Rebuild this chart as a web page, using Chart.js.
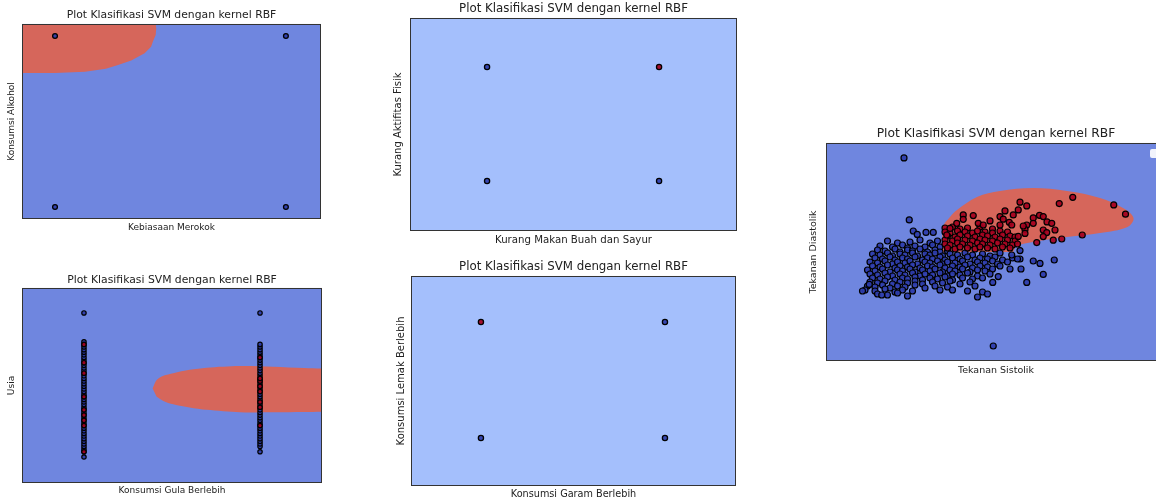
<!DOCTYPE html>
<html>
<head>
<meta charset="utf-8">
<script src="https://cdn.jsdelivr.net/npm/chart.js@4.4.1/dist/chart.umd.min.js"></script>
<style>
    body { margin: 0; background: #fff; width: 1156px; height: 503px; overflow: hidden; position: relative; }
    canvas { position: absolute; }
    #legenda { position: absolute; left: 1150px; top: 149px; width: 14px; height: 9px; background: #fff; border-radius: 2px; opacity: .9; }
</style>
</head>
<body>
<canvas id="grafik1" width="321" height="235" style="left:0;top:0"></canvas>
<canvas id="grafik2" width="322" height="239" style="left:0;top:260px"></canvas>
<canvas id="grafik3" width="347" height="248" style="left:390px;top:0"></canvas>
<canvas id="grafik4" width="343" height="248" style="left:393px;top:255px"></canvas>
<canvas id="grafik5" width="361" height="264" style="left:805px;top:115px"></canvas>
<div id="legenda"></div>
<script>
// grafik 1: kebiasaan merokok vs konsumsi alkohol
const merokok = [0, 0, 1, 1];
const alkohol = [0, 1, 0, 1];
const kelasMerokok = [0, 0, 0, 0];
const batasMerokok = [[-0.2, 0.784], [0.0, 0.784], [0.13, 0.791], [0.22, 0.808], [0.273, 0.83], [0.33, 0.856],
    [0.388, 0.899], [0.416, 0.937], [0.424, 0.967], [0.436, 1.006], [0.4385, 1.045], [0.435, 1.08], [0.43, 1.2], [-0.2, 1.2]];

// grafik 2: konsumsi gula berlebih (0/1) vs usia
const usiaGula0 = [25, 27, 28, 29, 30, 31, 32, 33, 34, 35, 36, 37, 38, 39, 40, 41, 42, 43, 44, 45, 46, 47, 48, 49, 50,
    51, 52, 53, 54, 55, 56, 57, 58, 59, 60, 61, 62, 63, 64, 65, 66, 67, 68, 69, 80];
const usiaGula0Merah = [27, 37, 39, 41, 43, 48, 57, 61, 68];
const usiaGula1 = [27, 29, 30, 31, 32, 33, 34, 35, 36, 37, 38, 39, 40, 41, 42, 43, 44, 45, 46, 47, 48, 49, 50,
    51, 52, 53, 54, 55, 56, 57, 58, 59, 60, 61, 62, 63, 64, 65, 66, 67, 68, 80];
const usiaGula1Merah = [37, 44, 46, 50, 52, 54, 55, 63];
const batasGula = [[0.39, 51.2], [0.413, 54.4], [0.451, 56.0], [0.507, 57.0], [0.6, 58.3], [0.697, 59.1], [0.886, 59.75],
    [1.074, 59.5], [1.25, 59.0], [1.35, 58.8], [1.6, 58.5], [1.6, 42.4], [1.35, 42.3], [1.25, 42.2], [1.074, 42.1],
    [0.886, 42.1], [0.697, 43.0], [0.6, 43.9], [0.507, 45.1], [0.451, 46.4], [0.413, 48.0]];

// grafik 3: kurang makan buah dan sayur vs kurang aktifitas fisik
const buahSayur = [0, 0, 1, 1];
const aktifitas = [0, 1, 0, 1];
const kelasAktifitas = [0, 0, 0, 1];

// grafik 4: konsumsi garam vs konsumsi lemak
const garam = [0, 0, 1, 1];
const lemak = [0, 1, 0, 1];
const kelasLemak = [0, 1, 0, 0];

// grafik 5: tekanan sistolik vs diastolik [sistolik, diastolik]
const tekananNormal = [
    [95, 89.5], [99, 88.5], [104, 89], [108, 90], [112, 88.5], [115, 89.5],
    [92, 87], [97, 86.5], [101, 87.5], [103, 86], [106, 87], [110, 86.5], [113, 87.5], [116, 86.5],
    [91, 85], [94, 84.5], [98, 85.5], [100, 84], [103, 85], [105, 84.5], [108, 85.5], [111, 84], [114, 85], [116, 84], [119, 84.5],
    [89, 83], [92, 82.5], [95, 83.5], [97, 82], [100, 83], [102, 82.5], [105, 83.5], [107, 82], [110, 83], [112, 82.5],
    [114, 83.5], [117, 82], [120, 83], [123, 82.5], [126, 83.5], [129, 82.5], [133, 83], [136, 82], [140, 83.5],
    [90, 81], [93, 80.5], [96, 81.5], [98, 80], [101, 81], [103, 80.5], [106, 81.5], [109, 80], [111, 81], [113, 80.5],
    [116, 81.5], [118, 80], [121, 81], [124, 80.5], [127, 81.5], [130, 80], [132, 81], [135, 80.5], [138, 81.5], [141, 80],
    [145, 81], [148, 80.5],
    [88, 79], [91, 78.5], [94, 79.5], [97, 78], [99, 79], [102, 78.5], [104, 79.5], [107, 78], [110, 79], [112, 78.5],
    [115, 79.5], [117, 78], [119, 79], [122, 78.5], [125, 79.5], [128, 78], [131, 79], [134, 78.5], [137, 79.5], [139, 78], [143, 79],
    [89, 77], [92, 76.5], [95, 77.5], [98, 76], [100, 77], [103, 76.5], [105, 77.5], [108, 76], [111, 77], [113, 76.5],
    [116, 77.5], [118, 76], [121, 77], [124, 76.5], [126, 77.5], [129, 76], [132, 77], [135, 76.5], [140, 77],
    [87, 75], [90, 74.5], [93, 75.5], [96, 74], [99, 75], [101, 74.5], [104, 75.5], [106, 74], [109, 75], [112, 74.5],
    [114, 75.5], [117, 74], [120, 75], [122, 74.5], [125, 75.5], [128, 74], [131, 75], [134, 74.5], [137, 75.5],
    [88, 73], [91, 72.5], [94, 73.5], [97, 72], [100, 73], [102, 72.5], [105, 73.5], [108, 72], [110, 73], [113, 72.5],
    [116, 73.5], [119, 72], [121, 73], [124, 72.5], [127, 73.5], [131, 72], [136, 73],
    [89, 71], [92, 70.5], [95, 71.5], [98, 70], [101, 71], [103, 70.5], [106, 71.5], [109, 70], [112, 71], [115, 70.5],
    [118, 71.5], [121, 70], [125, 71], [129, 70.5], [133, 71],
    [88, 69], [91, 68.5], [94, 69.5], [97, 68], [100, 69], [103, 68.5], [106, 69.5], [109, 68], [113, 69], [117, 68.5],
    [120, 69.5], [124, 68], [128, 69],
    [87, 67], [90, 66.5], [93, 67.5], [96, 66], [99, 67], [102, 66.5], [106, 67.5], [110, 66], [114, 67], [119, 66.5], [130, 67],
    [86, 65], [90, 64.5], [94, 65.5], [98, 64], [101, 65], [105, 64.5], [116, 65], [121, 65], [127, 64.5], [133, 64],
    [91, 63], [95, 62.5], [99, 63.5], [103, 62], [131, 61.5], [135, 63],
    [85, 64.5], [87.7, 67.8], [92.7, 62.5], [103.7, 100], [105.3, 94.5], [106.9, 92.8], [110.4, 93.8], [113.3, 93.8],
    [137.1, 68.8], [139.3, 71.7], [144, 75.5], [148.4, 75.5], [150.7, 68.8], [153.3, 79.5], [156, 78.3], [157.3, 72.8],
    [161.7, 80], [144.7, 82.5], [147, 80.5], [148, 84.7], [101.6, 131], [137.3, 37]
];
const tekananTinggi = [
    [118, 96], [121, 96.5], [124, 95.5], [127, 96], [132, 96.5], [137, 95.5],
    [118, 94], [120, 93.5], [123, 94.5], [126, 94], [129, 93.5], [131, 94.5], [134, 94], [137, 93.5], [140, 94.5], [143, 94],
    [119, 92], [122, 91.5], [124, 92.5], [127, 92], [130, 91.5], [133, 92.5], [135, 92], [138, 91.5], [141, 92.5], [144, 92], [146, 91.5],
    [118, 90], [121, 89.5], [123, 90.5], [126, 90], [129, 89.5], [132, 90.5], [134, 90], [137, 89.5], [140, 90.5], [143, 90], [146, 89.5],
    [118, 88], [120, 87.5], [123, 88.5], [125, 88], [128, 87.5], [131, 88.5], [133, 88], [136, 87.5], [139, 88.5], [142, 88], [145, 87.5],
    [119, 86], [122, 85.5], [124, 86.5], [127, 86], [130, 85.5], [132, 86.5], [135, 86], [138, 85.5], [141, 86.5], [144, 86],
    [169.1, 111.3], [185.5, 107.5], [190.2, 102.9], [163.7, 108.2], [148, 108.9], [150.7, 107], [147.3, 105], [142, 104.5],
    [129.3, 102.2], [125.3, 102.5], [125.3, 100.3], [140, 101.7], [141.3, 100.4], [145.3, 102.5], [143.7, 98.8], [144.7, 97.5],
    [153.3, 101], [155.8, 102.3], [157.3, 101.7], [158.8, 99], [160.7, 98.3], [153.3, 98.3], [150.7, 97.5], [150, 95.3],
    [150, 93.3], [149.3, 97], [157.3, 95], [158.7, 93.7], [162, 95], [157.3, 91.7], [161.3, 89.9], [164.7, 90.5],
    [172.9, 92.5], [154.7, 88.7], [147.3, 91.8], [147, 88], [140, 97.5], [131.3, 98.3], [133.3, 97.5], [122.7, 98.3],
    [120, 95.8], [118.7, 92.5], [136, 99.5]
];
const batasTekanan = [[117.2, 84], [117.2, 96.5], [120, 101.5], [122.8, 105], [130.8, 111.5], [140, 114.5], [153.2, 116],
    [166.8, 114.5], [180, 111], [189.2, 106], [193.4, 101], [191, 96.5], [180, 93.5], [166.8, 91.5], [153.2, 89],
    [146.8, 87], [145.2, 84]];

const judul = "Plot Klasifikasi SVM dengan kernel RBF";
const BIRU_LATAR = "#6f86df";
const BIRU_MUDA = "#a4bffc";
const MERAH_LATAR = "#d6665b";
const BIRU_TITIK = "rgba(44,60,170,0.92)";
const MERAH_TITIK = "rgba(165,0,30,0.92)";

const latarDanBingkai = {
    id: "latarDanBingkai",
    beforeDraw(chart, args, opts) {
        const { left, top, right, bottom } = chart.chartArea;
        const ctx = chart.ctx;
        ctx.save();
        ctx.fillStyle = opts.warna;
        ctx.fillRect(left, top, right - left, bottom - top);
        ctx.restore();
    },
    afterDraw(chart) {
        const { left, top, right, bottom } = chart.chartArea;
        const ctx = chart.ctx;
        ctx.save();
        ctx.strokeStyle = "#333";
        ctx.lineWidth = 1;
        ctx.strokeRect(Math.round(left) + 0.5, Math.round(top) + 0.5, Math.round(right - left) - 1, Math.round(bottom - top) - 1);
        ctx.restore();
    }
};

function skala(min, max, teks, ukuran, padding) {
    return {
        type: "linear", min: min, max: max,
        ticks: { display: false },
        grid: { display: false, drawTicks: false },
        border: { display: false },
        title: { display: true, text: teks, color: "#222", font: { family: "DejaVu Sans", size: ukuran }, padding: padding }
    };
}

function titik(xs, ys, warna, r) {
    return {
        data: xs.map((x, i) => ({ x: x, y: ys[i] })),
        pointRadius: r, pointBackgroundColor: warna, pointBorderColor: "#000", pointBorderWidth: 1.2, showLine: false
    };
}

function titikKelas(xs, ys, kelas, r) {
    return {
        data: xs.map((x, i) => ({ x: x, y: ys[i] })),
        pointRadius: r,
        pointBackgroundColor: kelas.map(k => k ? MERAH_TITIK : BIRU_TITIK),
        pointBorderColor: "#000", pointBorderWidth: 1.3, showLine: false
    };
}

function wilayah(batas, tension) {
    return {
        data: batas.map(p => ({ x: p[0], y: p[1] })),
        showLine: true, fill: "shape", backgroundColor: MERAH_LATAR, borderWidth: 0,
        borderColor: MERAH_LATAR, pointRadius: 0, tension: tension
    };
}

function buatGrafik(id, datasets, warna, judulOpsi, sumbuX, sumbuY) {
    return new Chart(document.getElementById(id), {
        type: "scatter",
        data: { datasets: datasets },
        options: {
            responsive: false,
            animation: false,
            events: [],
            layout: { padding: 0, autoPadding: false },
            scales: { x: sumbuX, y: sumbuY },
            plugins: {
                legend: { display: false },
                tooltip: { enabled: false },
                title: {
                    display: true, text: judul, color: "#222", fullSize: false,
                    font: { family: "DejaVu Sans", size: judulOpsi.ukuran, weight: "normal" },
                    padding: judulOpsi.padding
                },
                latarDanBingkai: { warna: warna }
            }
        },
        plugins: [latarDanBingkai]
    });
}

buatGrafik("grafik1",
    [titikKelas(merokok, alkohol, kelasMerokok, 2.4), wilayah(batasMerokok, 0)],
    BIRU_LATAR,
    { ukuran: 10.8, padding: { top: 8.5, bottom: 2.5 } },
    skala(-0.143, 1.152, "Kebiasaan Merokok", 9, { top: 3.1, bottom: 2.1 }),
    skala(-0.07, 1.07, "Konsumsi Alkohol", 9, { top: 6.6, bottom: 4.6 }));

buatGrafik("grafik2",
    [titik(usiaGula0Merah.map(() => 0), usiaGula0Merah, MERAH_TITIK, 2.2),
     titik(usiaGula1Merah.map(() => 1), usiaGula1Merah, MERAH_TITIK, 2.2),
     titik(usiaGula0.map(() => 0), usiaGula0, BIRU_TITIK, 2.2),
     titik(usiaGula1.map(() => 1), usiaGula1, BIRU_TITIK, 2.2),
     wilayah(batasGula, 0.3)],
    BIRU_LATAR,
    { ukuran: 10.8, padding: { top: 13.5, bottom: 1.5 } },
    skala(-0.352, 1.352, "Konsumsi Gula Berlebih", 9, { top: 2.6, bottom: 2.6 }),
    skala(15.07, 89.55, "Usia", 9, { top: 6.6, bottom: 4.6 }));

buatGrafik("grafik3",
    [titikKelas(buahSayur, aktifitas, kelasAktifitas, 2.6)],
    BIRU_MUDA,
    { ukuran: 11.8, padding: { top: 1.9, bottom: 1.9 } },
    skala(-0.448, 1.453, "Kurang Makan Buah dan Sayur", 10.2, { top: 2.9, bottom: 1.9 }),
    skala(-0.439, 1.43, "Kurang Aktifitas Fisik", 10, { top: 2.3, bottom: 5.7 }));

buatGrafik("grafik4",
    [titikKelas(garam, lemak, kelasLemak, 2.6)],
    BIRU_MUDA,
    { ukuran: 11.8, padding: { top: 4.9, bottom: 1.9 } },
    skala(-0.38, 1.386, "Konsumsi Garam Berlebih", 9.7, { top: 2.7, bottom: 2.7 }),
    skala(-0.414, 1.397, "Konsumsi Lemak Berlebih", 10, { top: 2.7, bottom: 3.3 }));

buatGrafik("grafik5",
    [titik(tekananTinggi.map(p => p[0]), tekananTinggi.map(p => p[1]), MERAH_TITIK, 3),
     titik(tekananNormal.map(p => p[0]), tekananNormal.map(p => p[1]), BIRU_TITIK, 3),
     wilayah(batasTekanan, 0.35)],
    BIRU_LATAR,
    { ukuran: 12.3, padding: { top: 11.6, bottom: 1.6 } },
    skala(70.4, 206.4, "Tekanan Sistolik", 9.5, { top: 4.3, bottom: 2.3 }),
    skala(29.5, 138.5, "Tekanan Diastolik", 9.5, { top: 2.6, bottom: 7 }));
</script>
</body>
</html>
